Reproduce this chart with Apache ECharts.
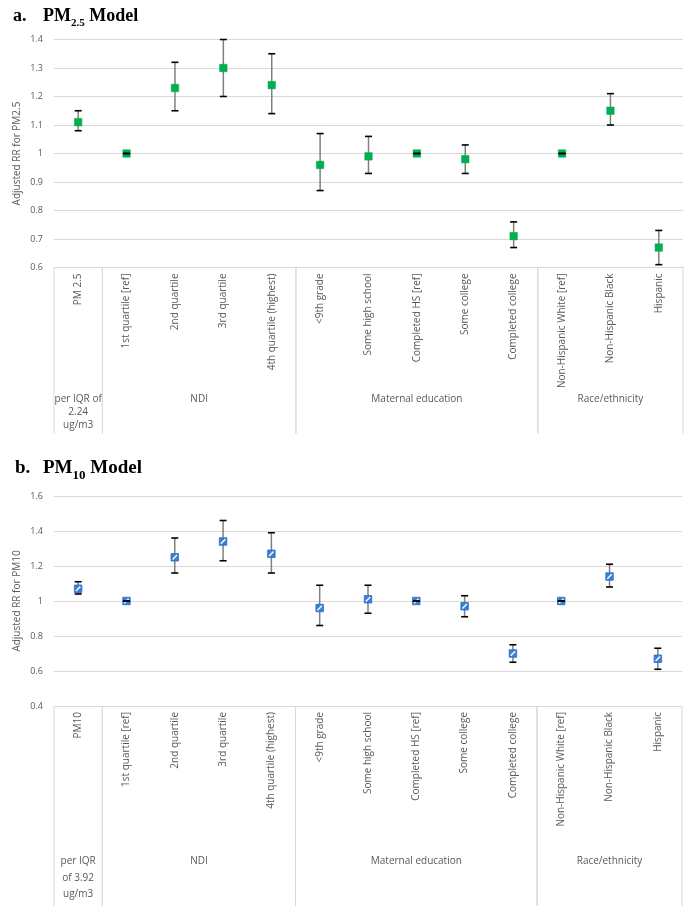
<!DOCTYPE html>
<html>
<head>
<meta charset="utf-8">
<script src="https://cdn.jsdelivr.net/npm/echarts@6/dist/echarts.min.js"></script>
<style>
html,body{margin:0;padding:0;background:#fff;}
#chart{width:697px;height:914px;}
</style>
</head>
<body>
<div id="chart"></div>
<script>
// ---------- data ----------
const categoriesA = ['PM 2.5','1st quartile [ref]','2nd quartile','3rd quartile','4th quartile (highest)','<9th grade','Some high school','Completed HS [ref]','Some college','Completed college','Non-Hispanic White [ref]','Non-Hispanic Black','Hispanic'];
const categoriesB = ['PM10','1st quartile [ref]','2nd quartile','3rd quartile','4th quartile (highest)','<9th grade','Some high school','Completed HS [ref]','Some college','Completed college','Non-Hispanic White [ref]','Non-Hispanic Black','Hispanic'];

const rrA   = [1.11, 1.00, 1.23, 1.30, 1.24, 0.96, 0.99, 1.00, 0.98, 0.71, 1.00, 1.15, 0.67];
const lowA  = [1.08, 1.00, 1.15, 1.20, 1.14, 0.87, 0.93, 1.00, 0.93, 0.67, 1.00, 1.10, 0.61];
const highA = [1.15, 1.00, 1.32, 1.40, 1.35, 1.07, 1.06, 1.00, 1.03, 0.76, 1.00, 1.21, 0.73];

const rrB   = [1.07, 1.00, 1.25, 1.34, 1.27, 0.96, 1.01, 1.00, 0.97, 0.70, 1.00, 1.14, 0.67];
const lowB  = [1.04, 1.00, 1.16, 1.23, 1.16, 0.86, 0.93, 1.00, 0.91, 0.65, 1.00, 1.08, 0.61];
const highB = [1.11, 1.00, 1.36, 1.46, 1.39, 1.09, 1.09, 1.00, 1.03, 0.75, 1.00, 1.21, 0.73];

const groupNamesA = ['per IQR of\n2.24\nug/m3', 'NDI', 'Maternal education', 'Race/ethnicity'];
const groupNamesB = ['per IQR\nof 3.92\nug/m3', 'NDI', 'Maternal education', 'Race/ethnicity'];
const groupSizes = [1, 4, 5, 3];

const yTicksA = {min: 0.6, max: 1.4, interval: 0.1};
const yTicksB = {min: 0.4, max: 1.6, interval: 0.2};

// ---------- helpers ----------
function groupData(sizes){
  const out = []; let s = 0;
  sizes.forEach((n,i)=>{ out.push([s, s+n-1, i]); s += n; });
  return out;
}
function pointData(rr, lo, hi){
  return rr.map((v,i)=>[i, v, lo[i], hi[i]]);
}

const SANS = 'Open Sans';
const LABEL_COLOR = '#595959';
const GRID_COLOR = '#D9D9D9';

function errRender(kind){
  return function(params, api){
    const x = api.value(0);
    const pv = api.coord([x, api.value(1)]);
    const pl = api.coord([x, api.value(2)]);
    const ph = api.coord([x, api.value(3)]);
    const cx = pv[0];
    const capW = 7, ms = 7.5;
    const children = [];
    children.push({type:'line', shape:{x1:cx, y1:pl[1], x2:cx, y2:ph[1]}, style:{stroke:'#808080', lineWidth:1.5}});
    if (kind === 'green') {
      children.push({type:'rect', shape:{x:cx-ms/2, y:pv[1]-ms/2, width:ms, height:ms}, style:{fill:'#00B050', stroke:'#00A84C', lineWidth:0.5}});
    } else {
      children.push({type:'rect', shape:{x:cx-ms/2, y:pv[1]-ms/2, width:ms, height:ms}, style:{fill:'#3A7FD8', stroke:'#2F6EC4', lineWidth:0.8}});
      children.push({type:'line', shape:{x1:cx-2.2, y1:pv[1]+2.2, x2:cx+2.2, y2:pv[1]-2.2}, style:{stroke:'#FFFFFF', lineWidth:1.4}});
    }
    children.push({type:'line', shape:{x1:cx-capW/2, y1:pl[1], x2:cx+capW/2, y2:pl[1]}, style:{stroke:'#000', lineWidth:1.6}});
    children.push({type:'line', shape:{x1:cx-capW/2, y1:ph[1], x2:cx+capW/2, y2:ph[1]}, style:{stroke:'#000', lineWidth:1.6}});
    return {type:'group', children};
  };
}

function groupRender(names, yMin, lineLen, textOff, lineH){
  return function(params, api){
    const s = api.value(0), e = api.value(1), gi = api.value(2);
    const bw = api.size([1, 0])[0];
    const ps = api.coord([s, yMin]);
    const pe = api.coord([e, yMin]);
    const x0 = ps[0] - bw/2, x1 = pe[0] + bw/2;
    const y0 = ps[1];
    return {type:'group', children:[
      {type:'line', shape:{x1:x0, y1:y0, x2:x0, y2:y0+lineLen}, style:{stroke:GRID_COLOR, lineWidth:1}},
      {type:'line', shape:{x1:x1, y1:y0, x2:x1, y2:y0+lineLen}, style:{stroke:GRID_COLOR, lineWidth:1}},
      {type:'text', style:{text:names[gi], x:(x0+x1)/2, y:y0+textOff, align:'center', verticalAlign:'top',
        fill:LABEL_COLOR, fontSize:10, fontFamily:SANS, lineHeight:lineH}}
    ]};
  };
}

function xAxisCfg(cats, gridIndex){
  return {
    type:'category', data:cats, gridIndex,
    axisLine:{show:true, lineStyle:{color:GRID_COLOR, width:1}},
    axisTick:{show:false},
    axisLabel:{rotate:90, interval:0, margin:6, color:LABEL_COLOR, fontSize:10, fontFamily:SANS}
  };
}
function yAxisCfg(t, name, gridIndex){
  return {
    type:'value', gridIndex, min:t.min, max:t.max, interval:t.interval,
    name, nameLocation:'middle', nameRotate:90, nameGap:32, nameMoveOverlap:false,
    nameTextStyle:{color:LABEL_COLOR, fontSize:10, fontFamily:SANS},
    axisLine:{show:false}, axisTick:{show:false},
    axisLabel:{color:LABEL_COLOR, fontSize:9, fontFamily:SANS, margin:11},
    splitLine:{lineStyle:{color:GRID_COLOR, width:1}}
  };
}

const titleRich = {
  l:{fontFamily:'Liberation Serif', fontWeight:'bold', fontSize:18, color:'#000', width:30},
  b:{fontFamily:'Liberation Serif', fontWeight:'bold', fontSize:18, color:'#000', lineHeight:22},
  s:{fontFamily:'Liberation Serif', fontWeight:'bold', fontSize:11, color:'#000', verticalAlign:'bottom', lineHeight:22, padding:[0,0,-2,0]},
  b2:{fontFamily:'Liberation Serif', fontWeight:'bold', fontSize:19, color:'#000', lineHeight:22},
  s2:{fontFamily:'Liberation Serif', fontWeight:'bold', fontSize:13, color:'#000', verticalAlign:'bottom', lineHeight:22, padding:[0,0,-3,0]},
  l2:{fontFamily:'Liberation Serif', fontWeight:'bold', fontSize:19, color:'#000', width:28}
};

const chart = echarts.init(document.getElementById('chart'), null, {renderer:'canvas'});
chart.setOption({
  animation:false,
  backgroundColor:'#fff',
  title:[
    {left:8, top:0, text:'{l|a.}{b|PM}{s|2.5}{b| Model}', textStyle:{rich:titleRich}},
    {left:10, top:452, text:'{l2|b.}{b2|PM}{s2|10}{b2| Model}', textStyle:{rich:titleRich}}
  ],
  grid:[
    {left:54, right:14, top:39.5, height:228},
    {left:54, right:15, top:496, height:210}
  ],
  xAxis:[xAxisCfg(categoriesA,0), xAxisCfg(categoriesB,1)],
  yAxis:[yAxisCfg(yTicksA,'Adjusted RR for PM2.5',0), yAxisCfg(yTicksB,'Adjusted RR for PM10',1)],
  series:[
    {type:'custom', xAxisIndex:0, yAxisIndex:0, clip:false, data:groupData(groupSizes),
      encode:{x:[0,1]}, renderItem:groupRender(groupNamesA, yTicksA.min, 166, 125, 13), silent:true},
    {type:'custom', xAxisIndex:1, yAxisIndex:1, clip:false, data:groupData(groupSizes),
      encode:{x:[0,1]}, renderItem:groupRender(groupNamesB, yTicksB.min, 200, 147, 16.5), silent:true},
    {type:'custom', xAxisIndex:0, yAxisIndex:0, clip:false, data:pointData(rrA, lowA, highA),
      encode:{x:0, y:[1,2,3]}, renderItem:errRender('green'), z:5},
    {type:'custom', xAxisIndex:1, yAxisIndex:1, clip:false, data:pointData(rrB, lowB, highB),
      encode:{x:0, y:[1,2,3]}, renderItem:errRender('blue'), z:5}
  ]
});
</script>
</body>
</html>
